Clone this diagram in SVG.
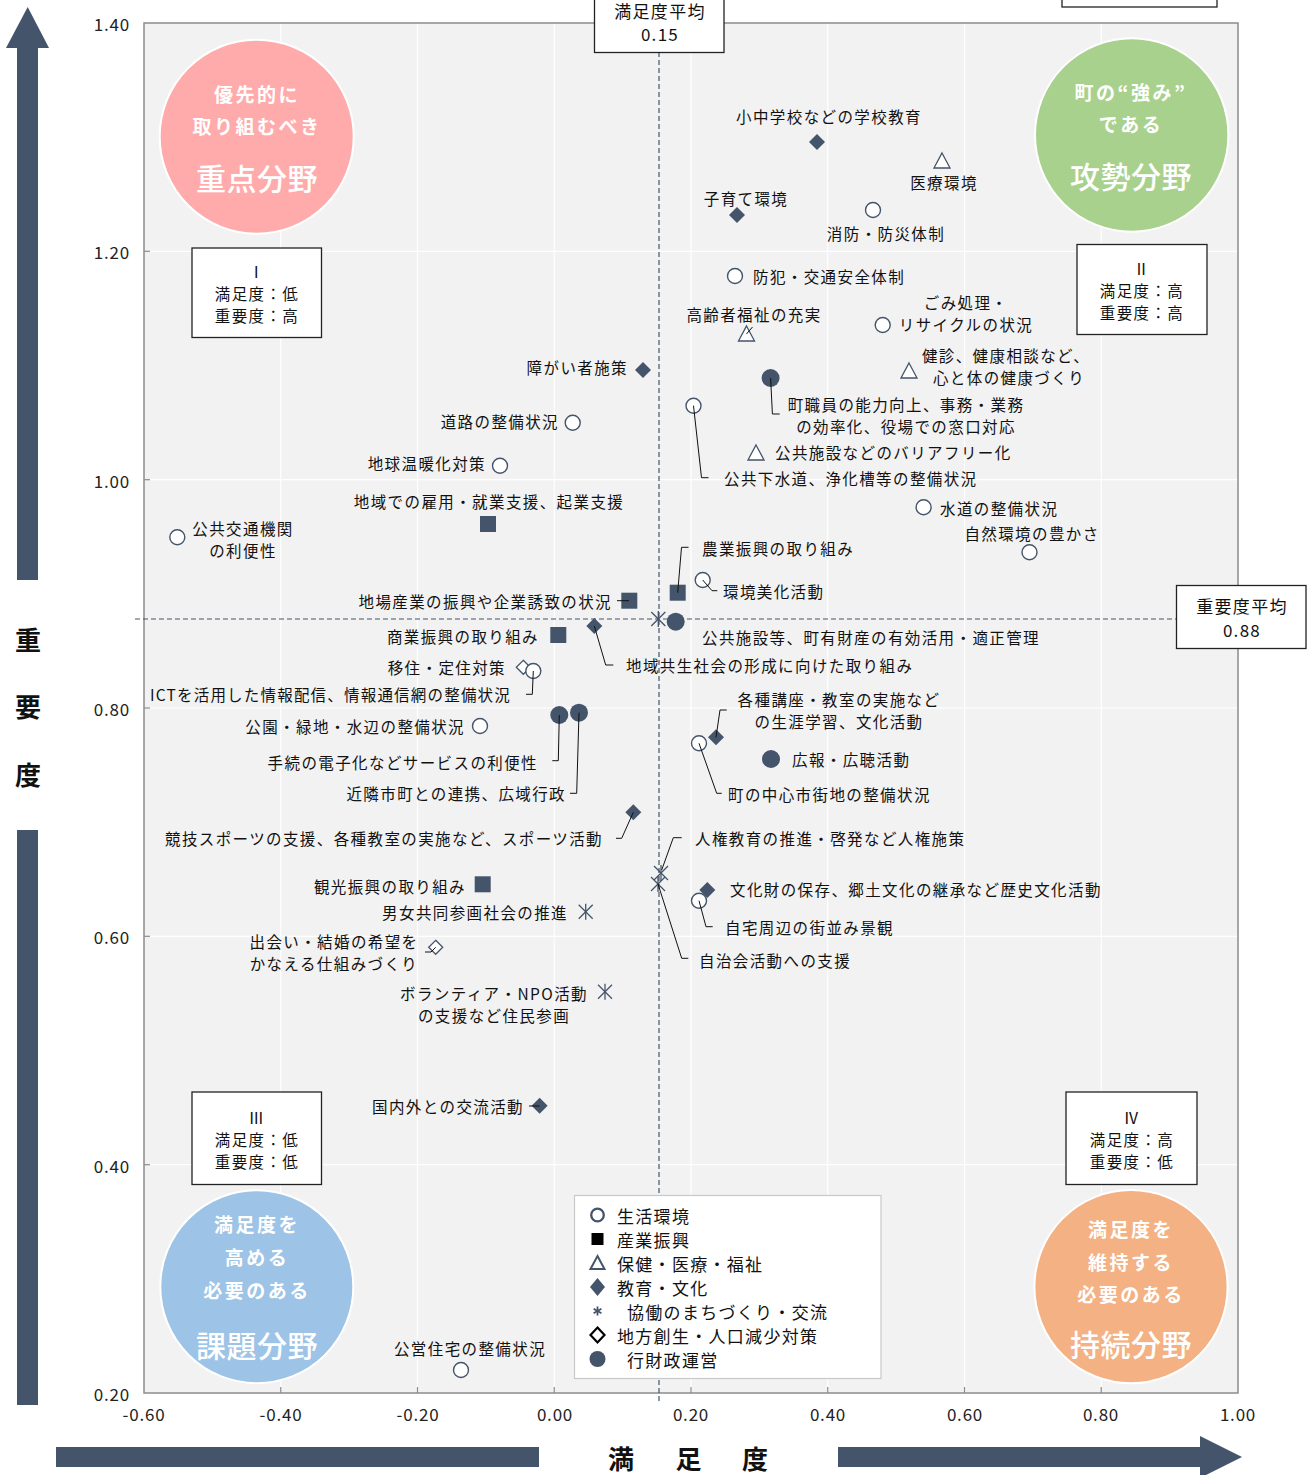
<svg xmlns="http://www.w3.org/2000/svg" width="1314" height="1475" viewBox="0 0 1314 1475">
<style>
text{font-family:"Noto Sans CJK JP","Noto Sans",sans-serif}
.lbl{font-size:15.5px;letter-spacing:1.4px;fill:#111;dominant-baseline:central}
.m{text-anchor:middle}
.e{text-anchor:end}
.ax{font-size:17px;letter-spacing:0.8px;fill:#222;dominant-baseline:central}
.axy{text-anchor:end}
.leg{font-size:17px;letter-spacing:1.3px;fill:#111;dominant-baseline:central}
.avg{font-size:17px;letter-spacing:1.3px;fill:#111;dominant-baseline:central;text-anchor:middle}
.box{fill:#fff;stroke:#222;stroke-width:1.3}
.grid{stroke:#fff;stroke-width:1.2}
.tick{stroke:#8c8c8c;stroke-width:1.2}
.ld{fill:none;stroke:#111;stroke-width:1}
.dash{stroke:#44546a;stroke-width:1.2;stroke-dasharray:5 3;fill:none}
.ct{fill:#fff;font-weight:bold;font-size:19px;letter-spacing:2.5px;text-anchor:middle;dominant-baseline:central}
.cb{fill:#fff;font-weight:500;font-size:30px;letter-spacing:0.5px;text-anchor:middle;dominant-baseline:central}
.big{font-size:26px;font-weight:bold;fill:#111;text-anchor:middle;dominant-baseline:central}
.arw{fill:#44546a}
.qc{stroke:#fff;stroke-width:2}
</style>
<defs>
<circle id="oc" r="7.5" fill="#fff" stroke="#44546a" stroke-width="1.4"/>
<rect id="sq" x="-8" y="-8" width="16" height="16" fill="#44546a"/>
<polygon id="tri" points="0,-8 8,7 -8,7" fill="#fff" stroke="#44546a" stroke-width="1.3"/>
<polygon id="dia" points="0,-8 8,0 0,8 -8,0" fill="#44546a"/>
<g id="ast" stroke="#44546a" stroke-width="1.3"><line x1="-7" y1="-7" x2="7" y2="7"/><line x1="-7" y1="7" x2="7" y2="-7"/><line x1="0" y1="-8" x2="0" y2="8"/></g>
<polygon id="od" points="0,-7 7,0 0,7 -7,0" fill="#fff" stroke="#44546a" stroke-width="1.3"/>
<circle id="fc" r="9" fill="#44546a"/>
</defs>

<rect x="0" y="0" width="1314" height="1475" fill="#fff"/>

<g id="plot-area">
<rect x="144" y="23" width="1094" height="1370" fill="#f2f2f2"/>
<g class="grid">
<line x1="280.75" y1="23" x2="280.75" y2="1393"/>
<line x1="417.5" y1="23" x2="417.5" y2="1393"/>
<line x1="554.25" y1="23" x2="554.25" y2="1393"/>
<line x1="691" y1="23" x2="691" y2="1393"/>
<line x1="827.75" y1="23" x2="827.75" y2="1393"/>
<line x1="964.5" y1="23" x2="964.5" y2="1393"/>
<line x1="1101.25" y1="23" x2="1101.25" y2="1393"/>
<line x1="144" y1="251.3" x2="1238" y2="251.3"/>
<line x1="144" y1="479.7" x2="1238" y2="479.7"/>
<line x1="144" y1="708" x2="1238" y2="708"/>
<line x1="144" y1="936.3" x2="1238" y2="936.3"/>
<line x1="144" y1="1164.7" x2="1238" y2="1164.7"/>
</g>
<rect x="144" y="23" width="1094" height="1370" fill="none" stroke="#8c8c8c" stroke-width="1.5"/>
<g class="tick">
<line x1="144" y1="251.3" x2="150" y2="251.3"/>
<line x1="144" y1="479.7" x2="150" y2="479.7"/>
<line x1="144" y1="708" x2="150" y2="708"/>
<line x1="144" y1="936.3" x2="150" y2="936.3"/>
<line x1="144" y1="1164.7" x2="150" y2="1164.7"/>
<line x1="280.75" y1="1387" x2="280.75" y2="1393"/>
<line x1="417.5" y1="1387" x2="417.5" y2="1393"/>
<line x1="554.25" y1="1387" x2="554.25" y2="1393"/>
<line x1="691" y1="1387" x2="691" y2="1393"/>
<line x1="827.75" y1="1387" x2="827.75" y2="1393"/>
<line x1="964.5" y1="1387" x2="964.5" y2="1393"/>
<line x1="1101.25" y1="1387" x2="1101.25" y2="1393"/>
</g>
<line class="dash" x1="659" y1="52" x2="659" y2="1403"/>
<line class="dash" x1="135" y1="619" x2="1177" y2="619"/>
</g>

<g id="zone-priority">
<circle class="qc" cx="256.7" cy="136.7" r="97" fill="#ffabab"/>
<text class="ct" x="257" y="93">優先的に</text>
<text class="ct" x="257" y="125">取り組むべき</text>
<text class="cb" x="257" y="177">重点分野</text>
</g>
<g id="zone-offense">
<circle class="qc" cx="1131.7" cy="135" r="96.7" fill="#a9d18e"/>
<text class="ct" x="1131" y="91">町の“強み”</text>
<text class="ct" x="1131" y="123">である</text>
<text class="cb" x="1131" y="175">攻勢分野</text>
</g>
<g id="zone-issue">
<circle class="qc" cx="256.8" cy="1286.7" r="96.5" fill="#9dc3e6"/>
<text class="ct" x="257" y="1223">満足度を</text>
<text class="ct" x="257" y="1256">高める</text>
<text class="ct" x="257" y="1289">必要のある</text>
<text class="cb" x="257" y="1344">課題分野</text>
</g>
<g id="zone-sustain">
<circle class="qc" cx="1131" cy="1286.7" r="96.6" fill="#f4b183"/>
<text class="ct" x="1131" y="1228">満足度を</text>
<text class="ct" x="1131" y="1261">維持する</text>
<text class="ct" x="1131" y="1293">必要のある</text>
<text class="cb" x="1131" y="1343">持続分野</text>
</g>

<g id="quad-1">
<rect class="box" x="192" y="248" width="129.5" height="89.5"/>
<text class="lbl m" x="257" y="271">Ⅰ</text>
<text class="lbl m" x="257" y="293">満足度：低</text>
<text class="lbl m" x="257" y="315">重要度：高</text>
</g>
<g id="quad-2">
<rect class="box" x="1077" y="244.5" width="130" height="90"/>
<text class="lbl m" x="1142" y="268">Ⅱ</text>
<text class="lbl m" x="1142" y="290">満足度：高</text>
<text class="lbl m" x="1142" y="312">重要度：高</text>
</g>
<g id="quad-3">
<rect class="box" x="192" y="1092" width="129.5" height="92.5"/>
<text class="lbl m" x="257" y="1117">Ⅲ</text>
<text class="lbl m" x="257" y="1139">満足度：低</text>
<text class="lbl m" x="257" y="1161">重要度：低</text>
</g>
<g id="quad-4">
<rect class="box" x="1066" y="1092" width="131" height="92.5"/>
<text class="lbl m" x="1132" y="1117">Ⅳ</text>
<text class="lbl m" x="1132" y="1139">満足度：高</text>
<text class="lbl m" x="1132" y="1161">重要度：低</text>
</g>

<g id="avg-satisfaction">
<rect class="box" x="594.5" y="-5" width="129.5" height="57.5"/>
<text class="avg" x="660" y="10">満足度平均</text>
<text class="avg" x="660" y="33">0.15</text>
</g>
<g id="avg-importance">
<rect class="box" x="1176.5" y="585.5" width="129.5" height="63"/>
<text class="avg" x="1242" y="605">重要度平均</text>
<text class="avg" x="1242" y="629">0.88</text>
</g>
<g id="top-box">
<rect class="box" x="1062" y="-20" width="155" height="27"/>
</g>

<g id="nodes">
<g id="avg-point"><use href="#ast" x="658.3" y="619"/></g>
<g id="n01"><use href="#dia" x="817" y="142"/><text class="lbl m" x="829" y="116">小中学校などの学校教育</text></g>
<g id="n02"><use href="#tri" x="942" y="161"/><text class="lbl m" x="944" y="182">医療環境</text></g>
<g id="n03"><use href="#dia" x="737" y="215"/><text class="lbl m" x="746" y="198">子育て環境</text></g>
<g id="n04"><use href="#oc" x="873" y="210"/><text class="lbl m" x="886" y="233">消防・防災体制</text></g>
<g id="n05"><use href="#oc" x="735" y="276"/><text class="lbl" x="753" y="276">防犯・交通安全体制</text></g>
<g id="n06"><use href="#tri" x="746.5" y="334"/><text class="lbl m" x="754" y="314">高齢者福祉の充実</text></g>
<g id="n07"><use href="#oc" x="882.7" y="325"/><text class="lbl m" x="966" y="302">ごみ処理・</text><text class="lbl m" x="966" y="324">リサイクルの状況</text></g>
<g id="n08"><use href="#tri" x="909" y="371"/><text class="lbl m" x="1006" y="355">健診、健康相談など、</text><text class="lbl m" x="1009" y="377">心と体の健康づくり</text></g>
<g id="n09"><use href="#dia" x="643" y="370"/><text class="lbl e" x="628" y="367">障がい者施策</text></g>
<g id="n10"><use href="#fc" x="770.6" y="378"/><text class="lbl m" x="906" y="404">町職員の能力向上、事務・業務</text><text class="lbl m" x="906" y="426">の効率化、役場での窓口対応</text></g>
<g id="n11"><use href="#oc" x="693.5" y="405.7"/><text class="lbl" x="724" y="478">公共下水道、浄化槽等の整備状況</text></g>
<g id="n12"><use href="#tri" x="756" y="453"/><text class="lbl" x="775" y="452">公共施設などのバリアフリー化</text></g>
<g id="n13"><use href="#oc" x="572.7" y="422.7"/><text class="lbl e" x="559" y="421">道路の整備状況</text></g>
<g id="n14"><use href="#oc" x="500" y="465.7"/><text class="lbl e" x="486" y="463">地球温暖化対策</text></g>
<g id="n15"><use href="#sq" x="488" y="524"/><text class="lbl m" x="489" y="501">地域での雇用・就業支援、起業支援</text></g>
<g id="n16"><use href="#oc" x="177.3" y="537.3"/><text class="lbl m" x="243" y="528">公共交通機関</text><text class="lbl m" x="243" y="550">の利便性</text></g>
<g id="n17"><use href="#oc" x="923.6" y="507.3"/><text class="lbl" x="940" y="508">水道の整備状況</text></g>
<g id="n18"><use href="#oc" x="1029.5" y="552.3"/><text class="lbl m" x="1032" y="533">自然環境の豊かさ</text></g>
<g id="n19"><use href="#sq" x="677.7" y="592.7"/><text class="lbl" x="702" y="548">農業振興の取り組み</text></g>
<g id="n20"><use href="#oc" x="702.7" y="580"/><text class="lbl" x="723" y="591">環境美化活動</text></g>
<g id="n21"><use href="#sq" x="629.3" y="600.7"/><text class="lbl e" x="612" y="601">地場産業の振興や企業誘致の状況</text></g>
<g id="n22"><use href="#fc" x="675.7" y="621.7"/><text class="lbl" x="702" y="637">公共施設等、町有財産の有効活用・適正管理</text></g>
<g id="n23"><use href="#sq" x="558.3" y="635"/><text class="lbl e" x="539" y="636">商業振興の取り組み</text></g>
<g id="n24"><use href="#dia" x="594.3" y="626"/><text class="lbl" x="626" y="665">地域共生社会の形成に向けた取り組み</text></g>
<g id="n25"><use href="#od" x="523.3" y="667.3"/><text class="lbl e" x="506" y="667">移住・定住対策</text></g>
<g id="n26"><use href="#oc" x="533.3" y="671"/><text class="lbl e" x="511" y="694" style="letter-spacing:1.2px">ICTを活用した情報配信、情報通信網の整備状況</text></g>
<g id="n27"><use href="#oc" x="480" y="726"/><text class="lbl e" x="465" y="726">公園・緑地・水辺の整備状況</text></g>
<g id="n28"><use href="#fc" x="559.3" y="715"/><text class="lbl e" x="538" y="762">手続の電子化などサービスの利便性</text></g>
<g id="n29"><use href="#fc" x="579" y="712.7"/><text class="lbl e" x="566" y="793">近隣市町との連携、広域行政</text></g>
<g id="n30"><use href="#dia" x="716" y="737.3"/><text class="lbl m" x="839" y="699">各種講座・教室の実施など</text><text class="lbl m" x="839" y="721">の生涯学習、文化活動</text></g>
<g id="n31"><use href="#oc" x="699" y="743.3"/><text class="lbl" x="728" y="794">町の中心市街地の整備状況</text></g>
<g id="n32"><use href="#fc" x="771" y="759"/><text class="lbl" x="792" y="759">広報・広聴活動</text></g>
<g id="n33"><use href="#dia" x="633.3" y="812.3"/><text class="lbl e" x="603" y="838">競技スポーツの支援、各種教室の実施など、スポーツ活動</text></g>
<g id="n34"><use href="#ast" x="661" y="873"/><text class="lbl" x="695" y="838">人権教育の推進・啓発など人権施策</text></g>
<g id="n35"><use href="#ast" x="658" y="884"/><text class="lbl" x="699" y="960">自治会活動への支援</text></g>
<g id="n36"><use href="#dia" x="707.3" y="890"/><text class="lbl" x="730" y="889">文化財の保存、郷土文化の継承など歴史文化活動</text></g>
<g id="n37"><use href="#oc" x="699" y="900.7"/><text class="lbl" x="725" y="927">自宅周辺の街並み景観</text></g>
<g id="n38"><use href="#sq" x="482.7" y="884.3"/><text class="lbl e" x="466" y="886">観光振興の取り組み</text></g>
<g id="n39"><use href="#ast" x="585.7" y="911.7"/><text class="lbl e" x="568" y="912">男女共同参画社会の推進</text></g>
<g id="n40"><use href="#od" x="435.7" y="947.3"/><text class="lbl m" x="334" y="941">出会い・結婚の希望を</text><text class="lbl m" x="334" y="963">かなえる仕組みづくり</text></g>
<g id="n41"><use href="#ast" x="605" y="991.7"/><text class="lbl m" x="494" y="993">ボランティア・NPO活動</text><text class="lbl m" x="494" y="1015">の支援など住民参画</text></g>
<g id="n42"><use href="#dia" x="539.6" y="1105.7"/><text class="lbl e" x="524" y="1106">国内外との交流活動</text></g>
<g id="n43"><use href="#oc" x="461" y="1370"/><text class="lbl m" x="470" y="1348">公営住宅の整備状況</text></g>
</g>

<g id="connectors" class="ld">
<path d="M746.5,334 L752.5,327"/>
<path d="M770.6,378 L772.4,414 L779.7,414"/>
<path d="M693.5,405.7 L701.5,477.7 L708.5,477.7"/>
<path d="M677.7,592.7 L681.5,547.3 L688.5,547.3"/>
<path d="M702.7,580 L712,590.7 L717.3,590.7"/>
<path d="M617,600.7 L629,600.7"/>
<path d="M594.3,626 L605.7,665 L613.3,665"/>
<path d="M533.3,671 L532.3,694.3 L526,694.3"/>
<path d="M559.3,715 L558.3,760.7 L552.3,760.7"/>
<path d="M579,712.7 L576.7,793.3 L570,793.3"/>
<path d="M716,737.3 L720,710 L726.7,710"/>
<path d="M699,743.3 L716.7,793.3 L721.7,793.3"/>
<path d="M633.3,812.3 L621.7,838.3 L616,838.3"/>
<path d="M681.7,837.7 L673.3,837.7 L661.7,870"/>
<path d="M658,884 L681.7,958.3 L688.3,958.3"/>
<path d="M699,900.7 L706,926.7 L712.7,926.7"/>
<path d="M425,952 L431,952 L435.7,947.3"/>
<path d="M529,1106 L539.6,1106"/>
</g>

<g id="legend">
<rect x="574.5" y="1195.5" width="306.5" height="183" fill="#fff" stroke="#c8c8c8" stroke-width="1.2"/>
<circle cx="597.5" cy="1215" r="6.3" fill="#fff" stroke="#44546a" stroke-width="2.3"/>
<text class="leg" x="617" y="1215">生活環境</text>
<rect x="591.5" y="1233" width="12" height="12" fill="#000"/>
<text class="leg" x="617" y="1239">産業振興</text>
<polygon points="597.5,1256 604.5,1269 590.5,1269" fill="#fff" stroke="#44546a" stroke-width="2"/>
<text class="leg" x="617" y="1263">保健・医療・福祉</text>
<polygon points="597.5,1278 605,1287 597.5,1296 590,1287" fill="#44546a"/>
<text class="leg" x="617" y="1287">教育・文化</text>
<g stroke="#44546a" stroke-width="1.8"><line x1="597.5" y1="1306.5" x2="597.5" y2="1315.5"/><line x1="593.6" y1="1308.8" x2="601.4" y2="1313.2"/><line x1="593.6" y1="1313.2" x2="601.4" y2="1308.8"/></g>
<text class="leg" x="627" y="1311">協働のまちづくり・交流</text>
<polygon points="597.5,1327.5 604.5,1335 597.5,1342.5 590.5,1335" fill="#fff" stroke="#000" stroke-width="2.2"/>
<text class="leg" x="617" y="1335">地方創生・人口減少対策</text>
<circle cx="597.5" cy="1359" r="8" fill="#44546a"/>
<text class="leg" x="627" y="1359">行財政運営</text>
</g>

<g id="axis-y-labels">
<text class="ax axy" x="130" y="23">1.40</text>
<text class="ax axy" x="130" y="251">1.20</text>
<text class="ax axy" x="130" y="480">1.00</text>
<text class="ax axy" x="130" y="708">0.80</text>
<text class="ax axy" x="130" y="936">0.60</text>
<text class="ax axy" x="130" y="1165">0.40</text>
<text class="ax axy" x="130" y="1393">0.20</text>
</g>
<g id="axis-x-labels">
<text class="ax m" x="144" y="1413">-0.60</text>
<text class="ax m" x="281" y="1413">-0.40</text>
<text class="ax m" x="418" y="1413">-0.20</text>
<text class="ax m" x="555" y="1413">0.00</text>
<text class="ax m" x="691" y="1413">0.20</text>
<text class="ax m" x="828" y="1413">0.40</text>
<text class="ax m" x="965" y="1413">0.60</text>
<text class="ax m" x="1101" y="1413">0.80</text>
<text class="ax m" x="1238" y="1413">1.00</text>
</g>

<g id="axis-y-title">
<polygon class="arw" points="27.7,7 49,48 6,48"/>
<rect class="arw" x="17" y="47" width="21" height="533"/>
<rect class="arw" x="17" y="830" width="21" height="575"/>
<text class="big" x="28" y="638">重</text>
<text class="big" x="28" y="705">要</text>
<text class="big" x="28" y="773">度</text>
</g>
<g id="axis-x-title">
<rect class="arw" x="56" y="1447" width="483" height="20"/>
<rect class="arw" x="838" y="1447" width="363" height="20"/>
<polygon class="arw" points="1200,1436 1242,1457 1200,1478"/>
<text class="big" x="621" y="1457">満</text>
<text class="big" x="688.5" y="1457">足</text>
<text class="big" x="755" y="1457">度</text>
</g>
</svg>
